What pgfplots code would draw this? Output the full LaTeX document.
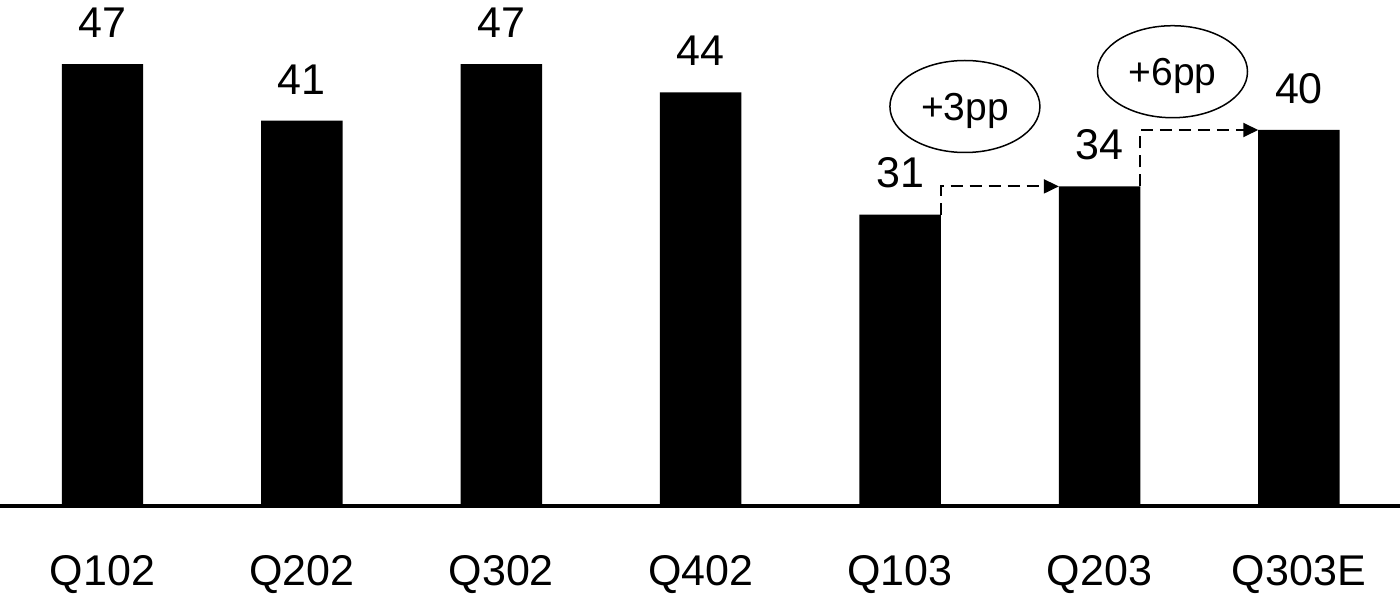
\documentclass[border=0pt]{standalone}
\usepackage{fontspec}
\setmainfont{Liberation Sans}
\usepackage{pgfplots}
\pgfplotsset{compat=1.18}
\usetikzlibrary{arrows.meta}
\begin{document}
\begin{tikzpicture}
\begin{axis}[
  scale only axis, width=700pt, height=253pt,
  at={(0,0)}, anchor=south west,
  xmin=-0.514, xmax=6.507, ymin=0, ymax=53.83,
  axis x line*=bottom, axis y line=none,
  axis line style={line width=2pt, line cap=round, -},
  xtick={0,1,2,3,4,5,6}, xticklabels={Q102,Q202,Q302,Q402,Q103,Q203,Q303E},
  xtick style={draw=none}, major tick length=0pt,
  xticklabel style={font=\fontsize{21.5}{26}\selectfont, anchor=base, yshift=-39.5pt, inner sep=0pt},
  /pgf/number format/assume math mode=true,
  ybar, bar width=0.4085,
  nodes near coords,
  every node near coord/.append style={font=\fontsize{21.5}{26}\selectfont, anchor=south, inner sep=0pt, yshift=13pt, black},
  clip=false,
]
\addplot[fill=black, draw=none] coordinates {(0,47) (1,41) (2,47) (3,44) (4,31) (5,34) (6,40)};
\draw[line width=1pt, dash pattern=on 6pt off 3.5pt, -{Triangle[length=7.5pt,width=7pt]}]
  (axis cs:4.204,31) |- (axis cs:4.796,34);
\draw[line width=1pt, dash pattern=on 6pt off 3.5pt, -{Triangle[length=7.5pt,width=7pt]}]
  (axis cs:5.204,34) |- (axis cs:5.796,40);
\draw[line width=0.75pt] (axis cs:4.325,42.5) ellipse [x radius=37.5pt, y radius=23pt];
\draw[line width=0.75pt] (axis cs:5.366,46.2) ellipse [x radius=37.5pt, y radius=23pt];
\node[font=\fontsize{19.5}{23}\selectfont, inner sep=0pt, yshift=-2pt] at (axis cs:4.325,42.5) {+3pp};
\node[font=\fontsize{19.5}{23}\selectfont, inner sep=0pt, yshift=-2pt] at (axis cs:5.366,46.2) {+6pp};
\end{axis}
\pgfresetboundingbox
\path[use as bounding box] (0,-44pt) rectangle (700pt,253pt);
\end{tikzpicture}
\end{document}
